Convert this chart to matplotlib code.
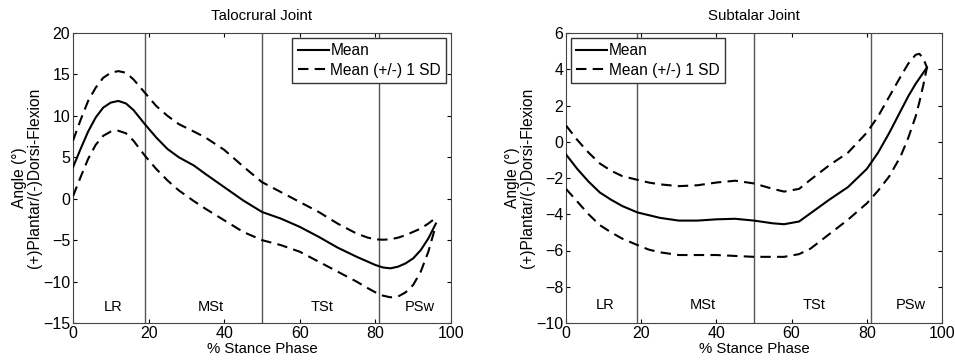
import matplotlib
matplotlib.use('Agg')
import matplotlib.pyplot as plt

plt.rcParams['font.family'] = ['Liberation Sans', 'DejaVu Sans']

# talocrural joint
x_tc = [0, 2, 4, 6, 8, 10, 12, 14, 16, 19, 22, 25, 28, 32, 35, 40, 45, 50, 55, 60, 65, 70, 75, 78, 80, 82, 84, 86,
        88, 90, 92, 94, 96]
mean_tc = [3.8, 6.0, 8.1, 9.8, 11.0, 11.6, 11.8, 11.5, 10.7, 9.0, 7.4, 6.0, 5.0, 4.0, 3.0, 1.4, -0.2, -1.6, -2.4,
           -3.4, -4.6, -5.9, -7.0, -7.6, -8.0, -8.3, -8.4, -8.2, -7.8, -7.2, -6.2, -4.8, -3.0]
upper_tc = [7.0, 9.5, 11.8, 13.4, 14.6, 15.2, 15.4, 15.2, 14.4, 12.8, 11.2, 10.0, 9.0, 8.1, 7.4, 5.9, 3.9, 2.0, 0.8,
            -0.4, -1.6, -3.0, -4.2, -4.7, -4.9, -4.95, -4.9, -4.7, -4.4, -4.0, -3.6, -3.0, -2.3]
lower_tc = [0.3, 2.6, 4.8, 6.5, 7.6, 8.1, 8.2, 7.9, 7.0, 5.2, 3.6, 2.2, 1.0, -0.3, -1.2, -2.6, -4.0, -5.0, -5.6,
            -6.4, -7.6, -8.8, -10.0, -10.8, -11.3, -11.7, -11.9, -11.8, -11.3, -10.4, -8.8, -6.4, -3.2]

# subtalar joint
x_st = [0, 3, 6, 9, 12, 15, 19, 22, 25, 30, 35, 40, 45, 50, 55, 58, 62, 65, 70, 75, 80, 83, 86, 89, 91, 93, 94,
        95, 96]
mean_st = [-0.7, -1.5, -2.2, -2.8, -3.2, -3.55, -3.9, -4.05, -4.2, -4.35, -4.35, -4.28, -4.25, -4.35, -4.5, -4.55,
           -4.4, -3.95, -3.2, -2.5, -1.5, -0.6, 0.5, 1.7, 2.5, 3.2, 3.5, 3.8, 4.1]
upper_st = [0.9, 0.1, -0.6, -1.2, -1.6, -1.9, -2.1, -2.25, -2.35, -2.45, -2.4, -2.25, -2.15, -2.3, -2.6, -2.75,
            -2.6, -2.1, -1.3, -0.6, 0.5, 1.4, 2.5, 3.6, 4.3, 4.8, 4.85, 4.6, 4.1]
lower_st = [-2.6, -3.3, -4.0, -4.6, -5.0, -5.35, -5.7, -5.95, -6.1, -6.25, -6.25, -6.25, -6.3, -6.35, -6.35, -6.35,
            -6.2, -5.9, -5.1, -4.3, -3.4, -2.7, -1.9, -0.8, 0.2, 1.4, 2.2, 3.1, 4.1]

phase_lines = [19, 50, 81]
phase_names = ['LR', 'MSt', 'TSt', 'PSw']
phase_x = [10.5, 36.4, 65.9, 91.8]

fig = plt.figure(figsize=(9.55, 3.63), dpi=100)
ax1 = fig.add_axes([73 / 955, 40 / 363, 378 / 955, 290 / 363])
ax2 = fig.add_axes([566 / 955, 40 / 363, 376 / 955, 290 / 363])

panels = [
    (ax1, 'Talocrural Joint', x_tc, mean_tc, upper_tc, lower_tc, (-15, 20), range(-15, 21, 5), -13.1, 'upper right'),
    (ax2, 'Subtalar Joint', x_st, mean_st, upper_st, lower_st, (-10, 6), range(-10, 7, 2), -9.0, 'upper left'),
]

for ax, title, x, m, up, lo, ylim, yt, ylab, loc in panels:
    for xv in phase_lines:
        ax.axvline(xv, color='#555555', lw=1.0, zorder=1)
    ax.plot(x, m, 'k-', lw=1.5, label='Mean', zorder=3)
    ax.plot(x, up, 'k--', lw=1.5, dashes=(5, 3), label='Mean (+/-) 1 SD', zorder=3)
    ax.plot(x, lo, 'k--', lw=1.5, dashes=(5, 3), zorder=3)
    for name, px in zip(phase_names, phase_x):
        ax.text(px, ylab, name, ha='center', va='center', fontsize=10.5)
    ax.set_xlim(0, 100)
    ax.set_ylim(*ylim)
    ax.set_xticks(range(0, 101, 20))
    ax.set_yticks(list(yt))
    ax.tick_params(direction='in', top=True, right=True, labelsize=11.5, length=3, pad=2)
    for s in ax.spines.values():
        s.set_color('#444444')
    ax.set_title(title, fontsize=10.8, pad=9)
    ax.set_xlabel('% Stance Phase', fontsize=10.8, labelpad=1)
    ax.set_ylabel('Angle (°)\n(+)Plantar/(-)Dorsi-Flexion', fontsize=11.2, labelpad=1, linespacing=1.0)
    leg = ax.legend(loc=loc, fontsize=11.2, fancybox=False, framealpha=1, edgecolor='#333333',
                    borderaxespad=0.3, handlelength=2.0, handletextpad=0.1, borderpad=0.35, labelspacing=0.3)
    leg.get_frame().set_linewidth(1.0)

fig.savefig('out.png', dpi=100)
